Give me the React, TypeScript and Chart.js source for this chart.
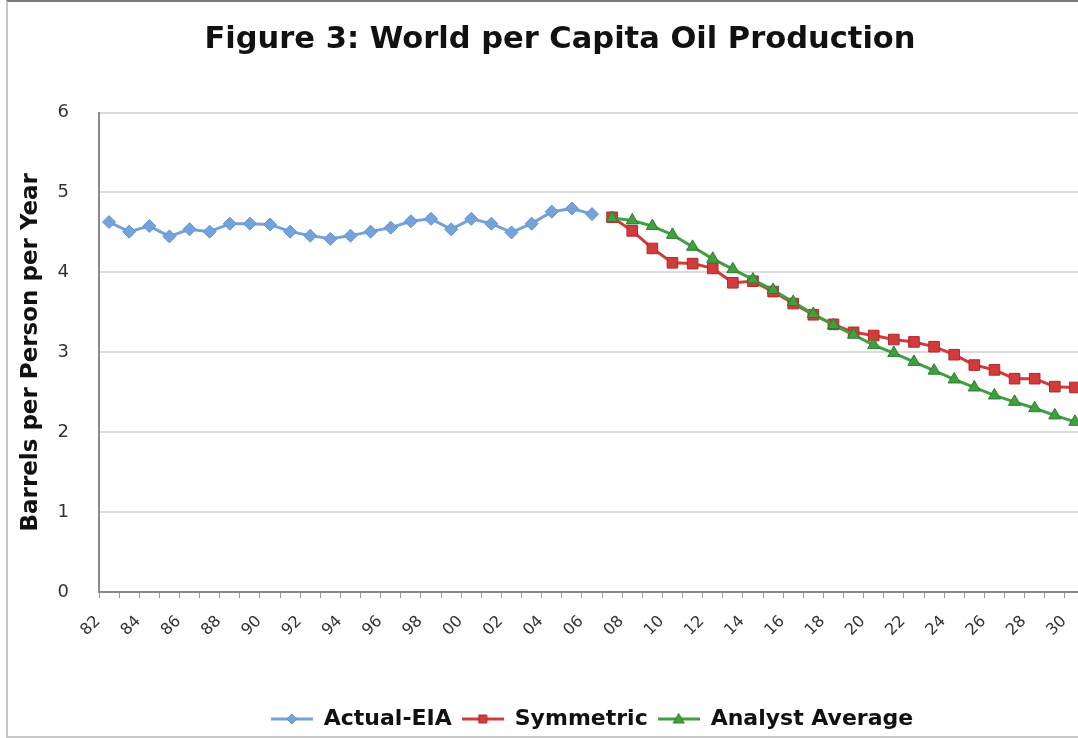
import React, { useEffect, useRef } from 'react';
import { Chart, registerables } from 'chart.js';

Chart.register(...registerables);

const years = [
  '82', '83', '84', '85', '86', '87', '88', '89', '90', '91', '92', '93', '94', '95', '96', '97',
  '98', '99', '00', '01', '02', '03', '04', '05', '06', '07', '08', '09', '10', '11', '12', '13',
  '14', '15', '16', '17', '18', '19', '20', '21', '22', '23', '24', '25', '26', '27', '28', '29', '30',
];

// Actual-EIA: 1982 .. 2006
const actualEIA = [
  4.63, 4.51, 4.58, 4.45, 4.54, 4.51, 4.61, 4.61, 4.6, 4.51, 4.46, 4.42, 4.46, 4.51, 4.56, 4.64,
  4.67, 4.54, 4.67, 4.61, 4.5, 4.61, 4.76, 4.8, 4.73,
];

// Symmetric: 2007 .. 2030
const symmetric = [
  4.69, 4.52, 4.3, 4.12, 4.11, 4.05, 3.87, 3.89, 3.76, 3.61, 3.47, 3.35, 3.25, 3.21, 3.16, 3.13,
  3.07, 2.97, 2.84, 2.78, 2.67, 2.67, 2.57, 2.56,
];

// Analyst Average: 2007 .. 2030
const analystAverage = [
  4.68, 4.65, 4.58, 4.47, 4.32, 4.17, 4.04, 3.91, 3.78, 3.63, 3.48, 3.34, 3.22, 3.09, 2.99, 2.88,
  2.77, 2.66, 2.56, 2.46, 2.38, 2.3, 2.21, 2.13,
];

const seriesNames = ['Actual-EIA', 'Symmetric', 'Analyst Average'];
const chartTitle = 'Figure 3: World per Capita Oil Production';
const yAxisTitle = 'Barrels per Person per Year';
const yMin = 0;
const yMax = 6;
const yStep = 1;

const BLUE = '#74a2da';
const BLUE_DARK = '#6290cf';
const RED = '#d23b3b';
const RED_DARK = '#b02a2a';
const GREEN = '#40a040';
const GREEN_DARK = '#2e7d2e';

function makeIcon(kind: string, fill: string, stroke: string, line: string) {
  const c = document.createElement('canvas');
  c.width = 42;
  c.height = 16;
  const g = c.getContext('2d')!;
  g.strokeStyle = line;
  g.lineWidth = 3;
  g.beginPath();
  g.moveTo(0, 8);
  g.lineTo(42, 8);
  g.stroke();
  g.fillStyle = fill;
  g.strokeStyle = stroke;
  g.lineWidth = 1;
  g.beginPath();
  if (kind === 'diamond') {
    g.moveTo(21, 3);
    g.lineTo(26, 8);
    g.lineTo(21, 13);
    g.lineTo(16, 8);
  } else if (kind === 'square') {
    g.rect(17, 4, 8, 8);
  } else {
    g.moveTo(21, 2.5);
    g.lineTo(26.5, 12);
    g.lineTo(15.5, 12);
  }
  g.closePath();
  g.fill();
  g.stroke();
  return c;
}

export default function App() {
  const ref = useRef<HTMLCanvasElement>(null);

  useEffect(() => {
    if (!ref.current) return;
    Chart.defaults.font.family = '"DejaVu Sans", Verdana, sans-serif';
    const n = years.length;
    const actualFull = actualEIA.concat(Array(n - actualEIA.length).fill(null));
    const symFull = Array(n - symmetric.length).fill(null).concat(symmetric);
    const anaFull = Array(n - analystAverage.length).fill(null).concat(analystAverage);

    const icons = [
      makeIcon('diamond', BLUE, BLUE_DARK, BLUE),
      makeIcon('square', RED, RED_DARK, RED),
      makeIcon('triangle', GREEN, GREEN_DARK, GREEN),
    ];

    const chart = new Chart(ref.current, {
      type: 'line',
      data: {
        labels: years,
        datasets: [
          {
            label: seriesNames[0],
            data: actualFull,
            borderColor: BLUE,
            backgroundColor: BLUE,
            borderWidth: 3,
            pointStyle: 'rectRot',
            pointRadius: 6.5,
            pointBackgroundColor: BLUE,
            pointBorderColor: BLUE_DARK,
            pointBorderWidth: 1,
            tension: 0,
            order: 2,
          },
          {
            label: seriesNames[1],
            data: symFull,
            borderColor: RED,
            backgroundColor: RED,
            borderWidth: 3,
            pointStyle: 'rect',
            pointRadius: 7.5,
            pointBackgroundColor: RED,
            pointBorderColor: RED_DARK,
            pointBorderWidth: 1,
            tension: 0,
            order: 1,
          },
          {
            label: seriesNames[2],
            data: anaFull,
            borderColor: GREEN,
            backgroundColor: GREEN,
            borderWidth: 3,
            pointStyle: 'triangle',
            pointRadius: 7,
            pointBackgroundColor: GREEN,
            pointBorderColor: GREEN_DARK,
            pointBorderWidth: 1,
            tension: 0,
            order: 0,
          },
        ],
      },
      options: {
        responsive: false,
        animation: false,
        events: [],
        layout: { padding: 0 },
        plugins: {
          tooltip: { enabled: false },
          title: {
            display: true,
            text: chartTitle,
            color: '#111',
            font: { size: 30.5, weight: 'bold' },
            padding: { top: 20, bottom: 54 },
          },
          legend: {
            position: 'bottom',
            fullSize: false,
            labels: {
              usePointStyle: true,
              pointStyleWidth: 42,
              color: '#111',
              font: { size: 22, weight: 'bold' },
              padding: 10,
              sort: (a: any, b: any) => a.datasetIndex - b.datasetIndex,
              generateLabels: (c: any) =>
                (Chart.defaults.plugins.legend.labels.generateLabels as any)(c).map((l: any) => ({
                  ...l,
                  pointStyle: icons[l.datasetIndex],
                })),
            },
          },
        },
        scales: {
          x: {
            type: 'category',
            offset: true,
            grid: {
              display: true,
              drawOnChartArea: false,
              drawTicks: true,
              tickLength: 6,
              color: '#9a9a9a',
              offset: true,
            },
            border: { display: true, color: '#8a8a8a', width: 2 },
            ticks: {
              autoSkip: false,
              minRotation: 45,
              maxRotation: 45,
              labelOffset: -11,
              padding: 14,
              color: '#333',
              font: { size: 16 },
              callback: (_v: any, i: number) => (i % 2 === 0 ? years[i] : ''),
            },
            afterFit: (s: any) => {
              s.height = 106;
            },
          },
          y: {
            min: yMin,
            max: yMax,
            ticks: { stepSize: yStep, padding: 30, color: '#333', font: { size: 18 } },
            grid: { color: '#dadada', lineWidth: 2, drawTicks: false },
            border: { display: true, color: '#8a8a8a', width: 2 },
            title: {
              display: true,
              text: yAxisTitle,
              color: '#111',
              font: { size: 23, weight: 'bold' },
              padding: { top: 9, bottom: 0 },
            },
            afterFit: (s: any) => {
              s.width = 91;
            },
          },
          spacer: {
            type: 'linear',
            position: 'right',
            display: true,
            min: 0,
            max: 1,
            grid: { drawOnChartArea: false, drawTicks: false, display: false },
            border: { display: false },
            ticks: { display: false },
            afterFit: (s: any) => {
              s.width = 27;
            },
          },
        },
      },
    } as any);

    return () => chart.destroy();
  }, []);

  return (
    <div
      style={{
        position: 'fixed',
        left: 0,
        top: 0,
        width: 1078,
        height: 738,
        overflow: 'hidden',
        background: '#fff',
      }}
    >
      <div
        style={{
          position: 'absolute',
          left: 6,
          top: 0,
          width: 1120,
          height: 734,
          borderLeft: '2px solid #c8c8c8',
          borderTop: '2px solid #7a7a7a',
          borderBottom: '2px solid #c8c8c8',
          background: '#fff',
        }}
      >
        <canvas ref={ref} width={1104} height={738} style={{ display: 'block' }} />
      </div>
    </div>
  );
}
